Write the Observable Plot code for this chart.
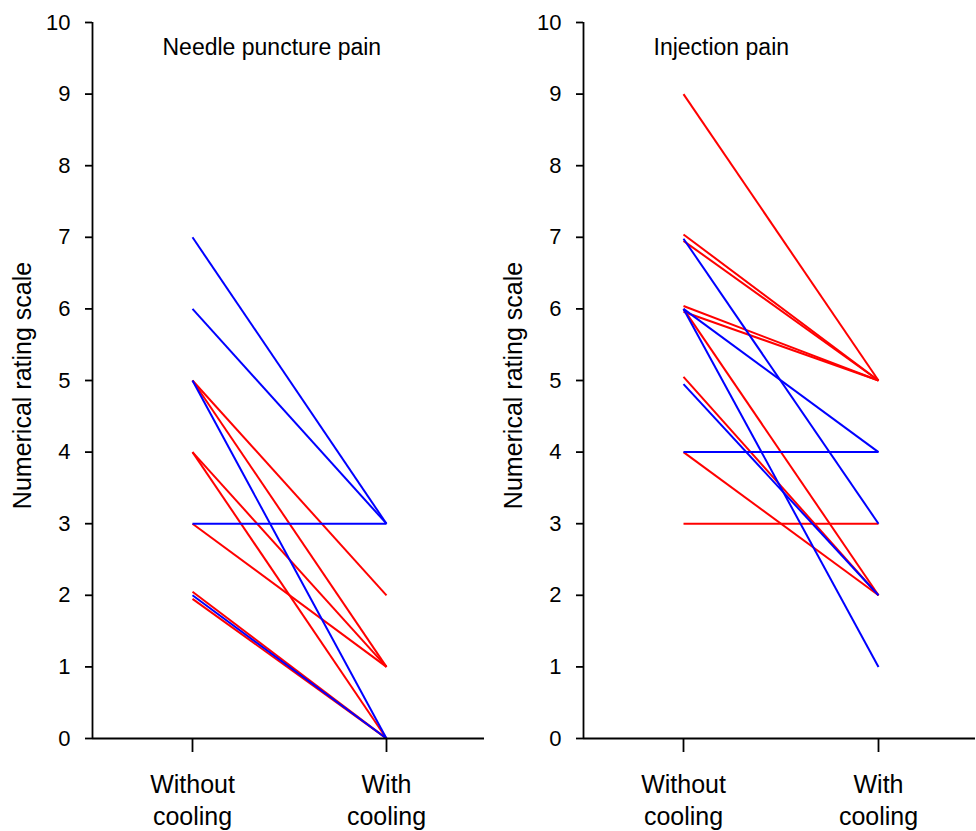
<!DOCTYPE html>
<html>
<head>
<meta charset="utf-8">
<script src="https://cdn.jsdelivr.net/npm/d3@7"></script>
<script src="https://cdn.jsdelivr.net/npm/@observablehq/plot@0.6"></script>
<style>
  body { margin: 0; background: #ffffff; }
  #chart { display: flex; width: 976px; height: 831px; }
  #chart svg { display: block; }
</style>
</head>
<body>
<div id="chart"></div>
<script>
// ---- data ----
const groups = ["Group A", "Group B"];
const groupColors = ["#ff0000", "#0000ff"];
const conditions = ["Without\ncooling", "With\ncooling"];
const yTicks = [0, 1, 2, 3, 4, 5, 6, 7, 8, 9, 10];
const panelTitles = ["Needle puncture pain", "Injection pain"];
const yLabel = "Numerical rating scale";

// Needle puncture pain
const needleGroup   = ["Group A", "Group A", "Group A", "Group A", "Group A", "Group A", "Group A",
                       "Group B", "Group B", "Group B", "Group B", "Group B"];
const needleWithout = [5, 5, 4, 4, 3, 2.05, 1.95,
                       7, 6, 5, 3, 2];
const needleWith    = [2, 1, 1, 0, 1, 0, 0,
                       3, 3, 0, 3, 0];

// Injection pain
const injectionGroup   = ["Group A", "Group A", "Group A", "Group A", "Group A", "Group A", "Group A", "Group A", "Group A",
                          "Group B", "Group B", "Group B", "Group B", "Group B"];
const injectionWithout = [9, 7.04, 6.95, 6.04, 5.96, 6, 5.05, 4, 3,
                          6.98, 6, 6, 4.95, 4];
const injectionWith    = [5, 5, 5, 5, 5, 2, 2, 2, 3,
                          3, 4, 1, 2, 4];

function rows(g, a, b) {
  return g.map((grp, i) => ({group: grp, without: a[i], with: b[i]}));
}

const font = "'Liberation Sans', Arial, Helvetica, sans-serif";

function panel(title, data, o) {
  return Plot.plot({
    width: 488,
    height: 831,
    marginTop: 22,
    marginBottom: 93,
    marginLeft: o.ml,
    marginRight: o.mr,
    x: {domain: o.xd, axis: null},
    y: {domain: [0, 10], axis: null},
    color: {domain: groups, range: groupColors},
    style: {fontFamily: font, background: "white", color: "black", overflow: "visible"},
    marks: [
      Plot.link(data.filter(d => d.group === groups[0]), {
        x1: () => 0, x2: () => 1, y1: "without", y2: "with",
        stroke: "group", strokeWidth: 2
      }),
      Plot.link(data.filter(d => d.group === groups[1]), {
        x1: () => 0, x2: () => 1, y1: "without", y2: "with",
        stroke: "group", strokeWidth: 2
      }),
      Plot.ruleX([o.xd[0]], {stroke: "black", strokeWidth: 1.8}),
      Plot.ruleY([0], {stroke: "black", strokeWidth: 1.8}),
      Plot.axisY(yTicks, {
        tickSize: 7, tickPadding: 15, fontSize: 22, label: null,
        strokeWidth: 1.8, tickFormat: d => String(d)
      }),
      Plot.axisX([0, 1], {
        tickSize: 14, tickPadding: 17, fontSize: 25, lineHeight: 1.3,
        label: null, strokeWidth: 1.8, tickFormat: i => conditions[i]
      }),
      Plot.text([title], {
        frameAnchor: "top-left", lineAnchor: "top", textAnchor: "start",
        dx: 70, dy: 16, fontSize: 23, fill: "black"
      }),
      Plot.text([yLabel], {
        frameAnchor: "left", textAnchor: "middle", lineAnchor: "middle",
        rotate: -90, dx: -70, dy: 5, fontSize: 25, fill: "black"
      })
    ]
  });
}

const chart = document.getElementById("chart");
chart.append(
  panel(panelTitles[0], rows(needleGroup, needleWithout, needleWith),
        {ml: 92, mr: 4, xd: [-100 / 194, 1 + 98 / 194]}),
  panel(panelTitles[1], rows(injectionGroup, injectionWithout, injectionWith),
        {ml: 95, mr: 1, xd: [-100 / 195, 1 + 97 / 195]})
);
</script>
</body>
</html>
